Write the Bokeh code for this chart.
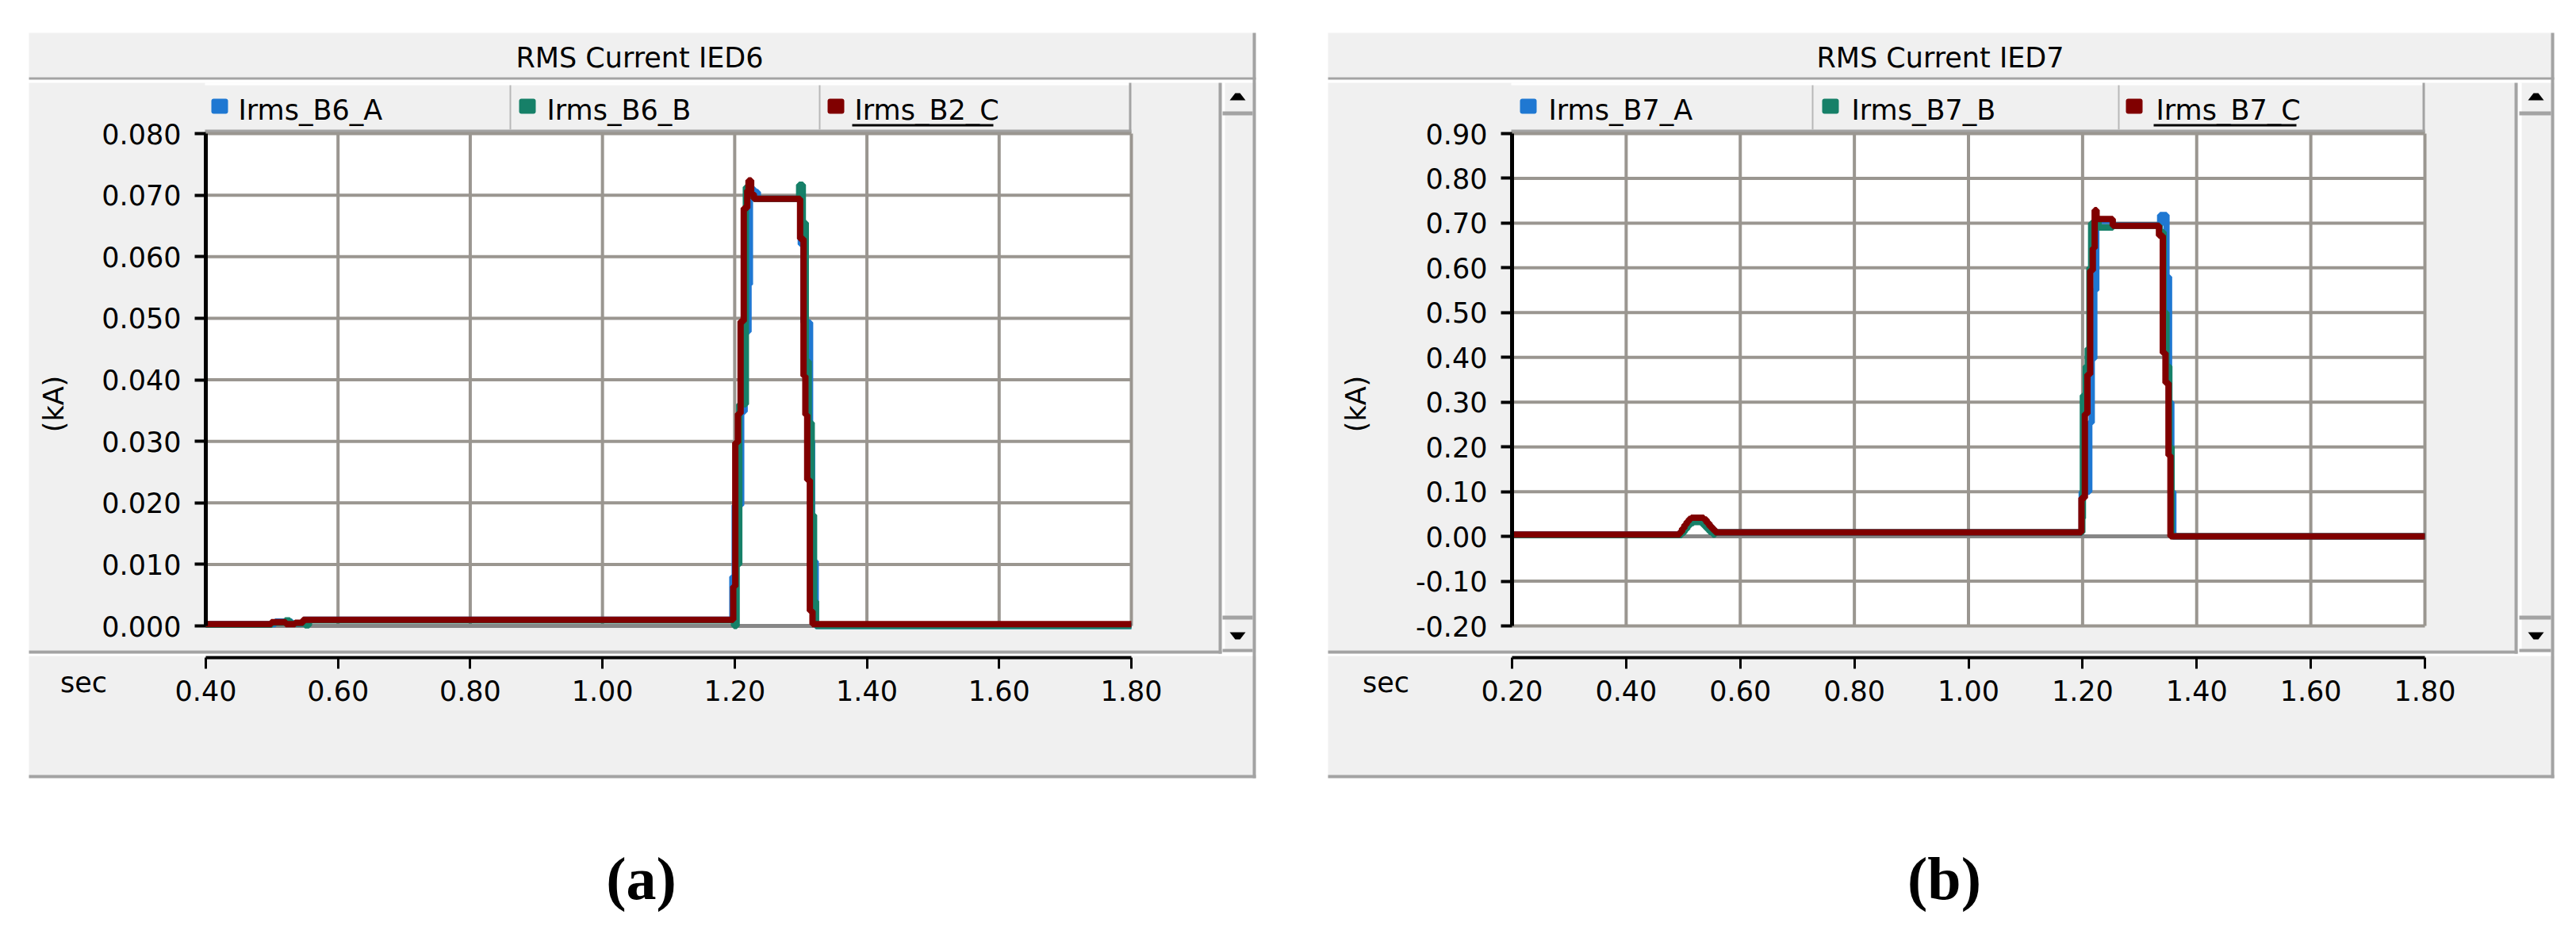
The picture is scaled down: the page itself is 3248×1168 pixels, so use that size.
import math
from bokeh.plotting import figure
from bokeh.models import (BoxAnnotation, Label, PolyAnnotation, FixedTicker, Range1d,
                          PrintfTickFormatter, LinearAxis)
from bokeh.layouts import row
from bokeh.embed import file_html
from bokeh.resources import INLINE

# ------------------------------------------------------------------ data
titles = ["RMS Current IED6", "RMS Current IED7"]
captions = ["(a)", "(b)"]
y_unit_label = "(kA)"
x_unit_label = "sec"

a_names = ["Irms_B6_A", "Irms_B6_B", "Irms_B2_C"]
b_names = ["Irms_B7_A", "Irms_B7_B", "Irms_B7_C"]

a_x_ticks = [0.40, 0.60, 0.80, 1.00, 1.20, 1.40, 1.60, 1.80]
a_x_labels = ["0.40", "0.60", "0.80", "1.00", "1.20", "1.40", "1.60", "1.80"]
a_y_ticks = [0.0, 0.01, 0.02, 0.03, 0.04, 0.05, 0.06, 0.07, 0.08]
a_y_labels = ["0.000", "0.010", "0.020", "0.030", "0.040", "0.050", "0.060", "0.070", "0.080"]

b_x_ticks = [0.20, 0.40, 0.60, 0.80, 1.00, 1.20, 1.40, 1.60, 1.80]
b_x_labels = ["0.20", "0.40", "0.60", "0.80", "1.00", "1.20", "1.40", "1.60", "1.80"]
b_y_ticks = [-0.2, -0.1, 0.0, 0.1, 0.2, 0.3, 0.4, 0.5, 0.6, 0.7, 0.8, 0.9]
b_y_labels = ["-0.20", "-0.10", "0.00", "0.10", "0.20", "0.30", "0.40", "0.50", "0.60", "0.70", "0.80", "0.90"]

# IED6 (sample times in s, RMS values in kA; each value holds until the next time)
a_t_A = [0.40, 0.505, 0.530, 0.548, 1.1965, 1.2000, 1.2098, 1.2150, 1.2209, 1.2230, 1.2290, 1.2350,
         1.3000, 1.3040, 1.3140, 1.3170, 1.3225, 1.80]
a_v_A = [0.0003, 0.0007, 0.0004, 0.0010, 0.0080, 0.0196, 0.0348, 0.0478, 0.0555, 0.0710, 0.0705, 0.0694,
         0.0620, 0.0493, 0.0300, 0.0105, 0.0000, 0.0000]
a_t_B = [0.40, 0.500, 0.520, 0.527, 0.550, 0.556, 1.1990, 1.2029, 1.2069, 1.2169, 1.2220, 1.2290,
         1.2975, 1.3030, 1.3075, 1.3120, 1.3165, 1.3200, 1.3230, 1.80]
a_v_B = [0.0002, 0.0005, 0.0009, 0.0004, 0.0001, 0.0009, 0.0000, 0.0100, 0.0360, 0.0713, 0.0700, 0.0694,
         0.0717, 0.0655, 0.0430, 0.0330, 0.0180, 0.0040, 0.0000, 0.0000]
a_t_C = [0.40, 0.499, 0.521, 0.535, 0.547, 1.1978, 1.2009, 1.2049, 1.2089, 1.2137, 1.2190, 1.2209,
         1.2249, 1.2289, 1.2989, 1.3041, 1.3069, 1.3097, 1.3137, 1.3177, 1.80]
a_v_C = [0.0003, 0.0006, 0.0003, 0.0005, 0.0010, 0.0064, 0.0298, 0.0345, 0.0495, 0.0679, 0.0708, 0.0724,
         0.0702, 0.0694, 0.0629, 0.0406, 0.0343, 0.0237, 0.0024, 0.0003, 0.0003]

# IED7
b_t_A = [0.20, 0.493, 0.498, 0.503, 0.508, 0.513, 0.537, 0.543, 0.549, 0.555, 0.560, 1.1985, 1.2117,
         1.2160, 1.2205, 1.2240, 1.2300, 1.2528, 1.3360, 1.3470, 1.3515, 1.3555, 1.3590, 1.80]
b_v_A = [0.004, 0.008, 0.016, 0.024, 0.031, 0.036, 0.032, 0.024, 0.016, 0.008, 0.009, 0.100, 0.254,
         0.397, 0.550, 0.700, 0.705, 0.695, 0.718, 0.580, 0.300, 0.100, 0.000, 0.000]
b_t_B = [0.20, 0.497, 0.502, 0.507, 0.512, 0.518, 0.534, 0.540, 0.546, 0.552, 0.556, 1.1995, 1.2005,
         1.2055, 1.2090, 1.2120, 1.2150, 1.2200, 1.2280, 1.2530, 1.3350, 1.3420, 1.3470, 1.3520, 1.3560, 1.80]
b_v_B = [0.003, 0.008, 0.016, 0.024, 0.030, 0.032, 0.026, 0.018, 0.010, 0.004, 0.009, 0.040, 0.315,
         0.380, 0.420, 0.600, 0.700, 0.705, 0.690, 0.694, 0.680, 0.500, 0.380, 0.200, 0.000, 0.000]
b_t_C = [0.20, 0.494, 0.498, 0.502, 0.506, 0.510, 0.514, 0.536, 0.541, 0.546, 0.551, 0.556, 1.198,
         1.204, 1.2085, 1.2133, 1.2179, 1.2212, 1.2245, 1.2528, 1.3339, 1.3406, 1.3453, 1.3506, 1.3540, 1.80]
b_v_C = [0.004, 0.010, 0.018, 0.026, 0.033, 0.039, 0.042, 0.038, 0.030, 0.022, 0.015, 0.009, 0.086,
         0.274, 0.362, 0.594, 0.644, 0.729, 0.709, 0.694, 0.672, 0.410, 0.343, 0.181, 0.000, 0.000]

# ------------------------------------------------------------------ style / layout
FONT = "DejaVu Sans"
FS = "35px"
CAP_FONT = "Liberation Serif"
GRID = "#9a9690"
ZERO = "#868686"
PANEL = "#f0f0f0"
EDGE = "#a3a3a3"
COLORS = ["#1f78d2", "#168068", "#800000"]

FIG_H = 1160
PLOT_TOP, PLOT_BOTTOM, AXIS_Y = 168, 789, 829

cfg_a = dict(fig_x=0, fig_w=1624, frame_l=259, frame_r=1426, pl=36, pr=1583, sr=1540, sb_l=1541,
             title_cx=806, ylab_x=67, sec_x=105, cap_x=808,
             dividers=[643, 1033], markers=[266, 654, 1043], texts=[300, 689, 1077], uline=(1074, 1252))
cfg_b = dict(fig_x=1624, fig_w=1616, frame_l=1906, frame_r=3057, pl=1674, pr=3220, sr=3174, sb_l=3176,
             title_cx=2446, ylab_x=1709, sec_x=1747, cap_x=2451,
             dividers=[2285, 2671], markers=[1916, 2297, 2680], texts=[1952, 2334, 2718], uline=(2715, 2895))


def make_chart(cfg, ts, vs, names, xt, xl, yt, yl, fmt, title, caption):
    x0, w, fl, fr = cfg["fig_x"], cfg["fig_w"], cfg["frame_l"], cfg["frame_r"]
    kx = (fr - fl) / (xt[-1] - xt[0])
    ky = (PLOT_BOTTOM - PLOT_TOP) / (yt[-1] - yt[0])

    def dx(X):  # page pixel -> data x (used for decorations only)
        return xt[0] + (X - fl) / kx

    def dy(Y):
        return yt[0] + (PLOT_BOTTOM - Y) / ky

    p = figure(width=w, height=FIG_H,
               x_range=Range1d(dx(x0), dx(x0 + w)), y_range=Range1d(dy(FIG_H), dy(0)),
               x_axis_location=None, y_axis_location=None,
               output_backend="svg", toolbar_location=None,
               min_border_left=0, min_border_right=0, min_border_top=0, min_border_bottom=0)
    p.border_fill_color = "white"
    p.background_fill_color = "white"
    p.outline_line_color = None
    p.grid.visible = False

    def box(X0, Y0, X1, Y1, color, level="image", radius=0):
        b = BoxAnnotation(left=dx(X0), right=dx(X1), top=dy(Y0), bottom=dy(Y1),
                          fill_color=color, fill_alpha=1.0, line_color=None, level=level)
        if radius:
            b.border_radius = radius
        p.add_layout(b)

    def lab(X, Y, text, size, align="center", angle=0.0, font=FONT, style="normal"):
        p.add_layout(Label(x=dx(X), y=dy(Y), text=text,
                           text_font=font, text_font_size=size, text_font_style=style,
                           text_align=align, text_baseline="middle", angle=angle, text_color="black"))

    def poly(pts):
        p.add_layout(PolyAnnotation(xs=[dx(X) for X, _ in pts], ys=[dy(Y) for _, Y in pts],
                                    fill_color="black", fill_alpha=1.0, line_color=None))

    pl, pr, sr, sb = cfg["pl"], cfg["pr"], cfg["sr"], cfg["sb_l"]
    # ---- grey window panels
    box(pl, 41, pr, 97, PANEL)                 # title bar
    box(pl, 104, sr, 820, PANEL)               # plot panel (legend row incl.)
    box(sb, 104, pr, 822, PANEL)               # scrollbar
    box(pl, 827, pr, 981, PANEL)               # x-axis panel
    # ---- borders / details
    box(pl, 97, pr, 100, EDGE, "underlay")
    box(sr - 4, 104, sr, 824, EDGE, "underlay")
    box(pl, 820, sr, 824, EDGE, "underlay")
    box(pl, 977, pr, 981, EDGE, "underlay")
    box(pr - 4, 41, pr, 981, EDGE, "underlay")
    # legend tabs
    box(fl - 1, 104, fr, 107, "white", "underlay")
    box(fl - 1, 163, fr, 167, EDGE, "underlay")
    box(fr - 3, 104, fr, 167, EDGE, "underlay")
    for d in cfg["dividers"]:
        box(d - 1, 107, d + 1, 163, "#b8b8b8", "underlay")
    for mx, c in zip(cfg["markers"], COLORS):
        box(mx, 124, mx + 21, 143, c, "underlay", radius=3)
    u0, u1 = cfg["uline"]
    box(u0, 156, u1, 159, "black", "underlay")
    # scrollbar
    box(sb, 104, sb + 3, 820, "white", "underlay")
    box(sb, 140, pr - 4, 145, EDGE, "underlay")
    box(sb, 776, pr - 4, 781, EDGE, "underlay")
    box(sb, 818, pr - 4, 822, EDGE, "underlay")
    cx = pr - 23
    poly([(cx - 10, 126), (cx + 10, 126), (cx + 3, 117), (cx - 3, 117)])
    poly([(cx - 10, 797), (cx + 10, 797), (cx + 3, 806), (cx - 3, 806)])

    # ---- plot area, grid
    p.quad(left=[xt[0]], right=[xt[-1]], bottom=[yt[0]], top=[yt[-1]], fill_color="white", line_color=None)
    p.segment(x0=xt, y0=[yt[0]] * len(xt), x1=xt, y1=[yt[-1]] * len(xt), line_color=GRID, line_width=4)
    p.segment(x0=[xt[0]] * len(yt), y0=yt, x1=[xt[-1]] * len(yt), y1=yt, line_color=GRID, line_width=4)
    p.segment(x0=[xt[0]], y0=[0.0], x1=[xt[-1]], y1=[0.0], line_color=ZERO, line_width=5)

    # ---- axes at the plot-area edges
    yax = LinearAxis(fixed_location=xt[0], bounds=(yt[0], yt[-1]),
                     ticker=FixedTicker(ticks=yt), formatter=PrintfTickFormatter(format=fmt))
    yax.major_label_overrides = {t: s for t, s in zip(yt, yl)}
    xax = LinearAxis(fixed_location=dy(AXIS_Y), bounds=(xt[0], xt[-1]),
                     ticker=FixedTicker(ticks=xt), formatter=PrintfTickFormatter(format="%.2f"))
    xax.major_label_overrides = {t: s for t, s in zip(xt, xl)}
    for ax, lw, tw in ((xax, 4, 3), (yax, 5, 4)):
        ax.axis_line_color = "black"
        ax.axis_line_width = lw
        ax.major_tick_line_color = "black"
        ax.major_tick_line_width = tw
        ax.major_tick_out = 14
        ax.major_tick_in = 0
        ax.minor_tick_line_color = None
        ax.major_label_text_font = FONT
        ax.major_label_text_font_size = FS
        ax.major_label_text_color = "black"
    xax.major_label_standoff = 14
    yax.major_label_standoff = 17
    p.add_layout(yax, "left")
    p.add_layout(xax, "below")

    # ---- data
    for t, v, c in zip(ts, vs, COLORS):
        p.step(t, v, mode="after", line_color=c, line_width=8)

    # ---- texts
    for tx, nm in zip(cfg["texts"], names):
        lab(tx, 138, nm, FS, align="left")
    lab(cfg["title_cx"], 72, title, FS)
    lab(cfg["ylab_x"], 509, y_unit_label, FS, angle=math.pi / 2)
    lab(cfg["sec_x"], 860, x_unit_label, FS)
    lab(cfg["cap_x"], 1107, caption, "76px", font=CAP_FONT, style="bold")
    return p


pa = make_chart(cfg_a, [a_t_A, a_t_B, a_t_C], [a_v_A, a_v_B, a_v_C], a_names,
                a_x_ticks, a_x_labels, a_y_ticks, a_y_labels, "%.3f", titles[0], captions[0])
pb = make_chart(cfg_b, [b_t_A, b_t_B, b_t_C], [b_v_A, b_v_B, b_v_C], b_names,
                b_x_ticks, b_x_labels, b_y_ticks, b_y_labels, "%.2f", titles[1], captions[1])

layout = row(pa, pb)
open("out.html", "w").write(file_html(layout, INLINE))
